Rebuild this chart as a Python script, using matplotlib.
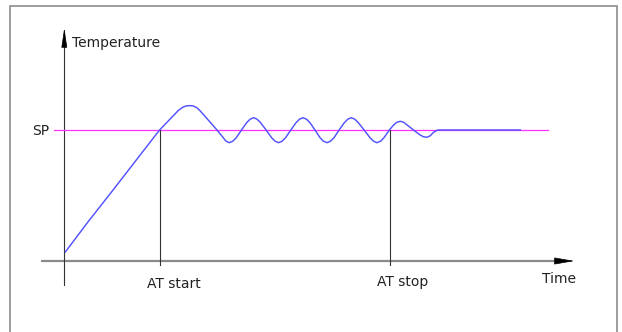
import matplotlib
matplotlib.use("Agg")
import matplotlib.pyplot as plt
from matplotlib.patches import Rectangle

# ---- data (schematic units: time, temperature) ----
setpoint = 131
at_start_t = 95.3
at_stop_t = 325.3
curve_t = [1, 24, 48, 72, 95.3,
           114, 118, 121.5, 125.3, 129, 132.5, 136, 152.7,
           158, 161.5, 165, 168.5, 172, 177.2,
           182.3, 185.8, 189.3, 192.8, 196.3, 201.8,
           207.3, 210.8, 214.3, 217.8, 221.3, 226.5,
           231.7, 235.2, 238.7, 242.2, 245.7, 250.7,
           255.7, 259.2, 262.7, 266.2, 269.7, 274.8,
           280, 283.5, 287, 290.5, 294, 299.8,
           305.7, 309.2, 312.7, 316.2, 319.7, 325,
           329.5, 332.5, 336, 339.5, 342.5, 349.3,
           355.5, 359, 362.7, 366, 369.3, 372.7, 374.3, 456]
curve_T = [9, 39.5, 70, 101, 131,
           150.5, 153.5, 155, 155.4, 155, 153.3, 150, 131,
           124.5, 120, 118.3, 119.8, 123.3, 131,
           138.3, 141.8, 143.3, 141.8, 138.3, 131,
           123.3, 119.8, 118.3, 119.8, 123.3, 131,
           138.3, 141.8, 143.3, 141.8, 138.3, 131,
           123.3, 119.8, 118.3, 119.8, 123.3, 131,
           138.3, 141.8, 143.3, 141.8, 138.3, 131,
           123.3, 119.8, 118.3, 119.8, 123.3, 131,
           136.2, 138.7, 139.7, 138.7, 136.2, 131,
           126.2, 124.3, 123.7, 125.3, 128.7, 130.7, 131, 131]

labels = {"y": "Temperature", "x": "Time", "sp": "SP",
          "start": "AT start", "stop": "AT stop"}

fig = plt.figure(figsize=(6.22, 3.32), dpi=100)
ax = fig.add_axes([0, 0, 1, 1])
ax.set_xlim(-64.3, 557.7)
ax.set_ylim(-71, 261)
ax.axis("off")

# frame
ax.add_patch(Rectangle((-54.3, -90), 606.7, 345.5, fill=False,
                       edgecolor="#8c8c8c", lw=1.2))

txt = "#222222"
# x axis (gray) and y axis
ax.plot([-23, 494], [0, 0], color="#8a8a8a", lw=1.6, solid_capstyle="butt")
ax.plot([0, 0], [-24, 218], color="#333333", lw=0.8)
ax.annotate("", xy=(510, 0), xytext=(492, 0),
            arrowprops=dict(arrowstyle="-|>,head_length=1.27,head_width=0.22",
                            mutation_scale=10, color="black", lw=0.5,
                            shrinkA=0, shrinkB=0))
ax.annotate("", xy=(0, 233), xytext=(0, 215),
            arrowprops=dict(arrowstyle="-|>,head_length=1.22,head_width=0.18",
                            mutation_scale=10, color="black", lw=0.5,
                            shrinkA=0, shrinkB=0))

# setpoint line
ax.plot([-10, 483.7], [setpoint, setpoint], color="#ff33ff", lw=0.9)

# AT markers
for tv in (at_start_t, at_stop_t):
    ax.plot([tv, tv], [-4, setpoint], color="#333333", lw=0.8)

# process curve
ax.plot(curve_t, curve_T, color="#5252ff", lw=1.05, solid_joinstyle="round")

fs = 10
ax.text(7.7, 213.7, labels["y"], fontsize=fs, color=txt, ha="left", va="baseline")
ax.text(-23.5, 126, labels["sp"], fontsize=fs, color=txt, ha="center", va="baseline")
ax.text(109.3, -27.3, labels["start"], fontsize=fs, color=txt, ha="center", va="baseline")
ax.text(338.2, -25, labels["stop"], fontsize=fs, color=txt, ha="center", va="baseline")
ax.text(494.7, -22.3, labels["x"], fontsize=fs, color=txt, ha="center", va="baseline")

fig.savefig("out.png", dpi=100, facecolor="white")
